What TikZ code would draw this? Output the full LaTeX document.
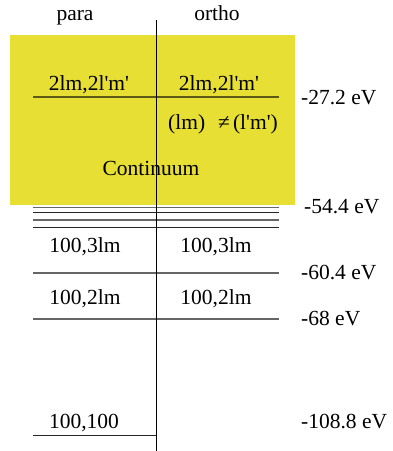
\documentclass[tikz,border=0pt]{standalone}
\usepackage{fontspec}
\setmainfont{Liberation Serif}[Ligatures=TeXOff]
\definecolor{contyellow}{RGB}{231,223,51}
\begin{document}
\begin{tikzpicture}[x=1pt,y=-1pt,
  lbl/.style={inner sep=0pt, anchor=base, font=\fontsize{21.5}{25}\selectfont},
  elbl/.style={lbl, anchor=base west},
  level/.style={draw=black, draw opacity=0.6, line width=1.1pt},
  dark/.style={draw=black!85, line width=1pt},
  divider/.style={draw=black, line width=1pt}]
\useasboundingbox (0,0) rectangle (392,451);
% continuum band
\fill[contyellow] (10,35) rectangle (295,204.5);
% column headers
\node[lbl] (para) at (75,20) {para};
\node[lbl] (ortho) at (217,20) {ortho};
% divider
\coordinate (vtop) at (156,20);
\coordinate (vbot) at (156,451);
\draw[divider] (vtop) -- (vbot);
% level 2lm,2l'm'
\node[lbl] (p2) at (89,90) {2lm,2l'm'};
\node[lbl] (o2) at (219,90) {2lm,2l'm'};
\coordinate (l1a) at (33,97);
\coordinate (l1b) at (279,97);
\draw[level] (l1a) -- (l1b);
\node[elbl] (e1) at (301,104) {-27.2 eV};
\node[elbl] (neq) at (168,129) {(lm)\hspace{13pt}≠\hspace{3pt}(l'm')};
\node[lbl] (cont) at (151,175) {Continuum};
% series limit lines
\coordinate (s1a) at (33,207.7); \coordinate (s1b) at (279,207.7);
\coordinate (s2a) at (33,212);   \coordinate (s2b) at (279,212);
\coordinate (s3a) at (33,220);   \coordinate (s3b) at (279,220);
\coordinate (s4a) at (33,227.7); \coordinate (s4b) at (279,227.7);
\draw[level, line width=1.3pt] (s1a) -- (s1b);
\draw[dark] (s2a) -- (s2b);
\draw[level, line width=2pt] (s3a) -- (s3b);
\draw[dark] (s4a) -- (s4b);
\node[elbl] (e2) at (304,213) {-54.4 eV};
% 100,3lm
\node[lbl] (p3) at (85,252) {100,3lm};
\node[lbl] (o3) at (216,252) {100,3lm};
\coordinate (l3a) at (33,273); \coordinate (l3b) at (279,273);
\draw[level] (l3a) -- (l3b);
\node[elbl] (e3) at (301,279) {-60.4 eV};
% 100,2lm
\node[lbl] (p4) at (85,304) {100,2lm};
\node[lbl] (o4) at (216,304) {100,2lm};
\coordinate (l4a) at (33,319); \coordinate (l4b) at (279,319);
\draw[level] (l4a) -- (l4b);
\node[elbl] (e4) at (301,325) {-68 eV};
% ground 100,100
\node[lbl] (p5) at (84,428) {100,100};
\coordinate (l5a) at (33,435); \coordinate (l5b) at (156,435);
\draw[dark] (l5a) -- (l5b);
\node[elbl] (e5) at (301,428) {-108.8 eV};
\end{tikzpicture}
\end{document}
